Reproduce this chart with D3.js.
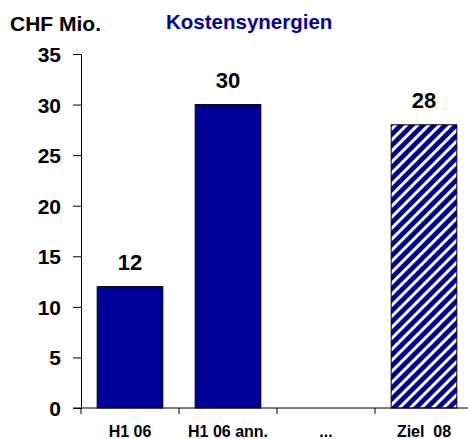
<!DOCTYPE html>
<html>
<head>
<meta charset="utf-8">
<script src="https://cdn.jsdelivr.net/npm/d3@7/dist/d3.min.js"></script>
<style>
  html, body { margin: 0; padding: 0; background: #fff; }
  svg { display: block; font-family: "Liberation Sans", Arial, sans-serif; font-weight: bold; }
</style>
</head>
<body>
<svg id="chart" width="468" height="439"></svg>
<script>
// Cost synergies (CHF millions)
const categories = ["H1 06", "H1 06 ann.", "...", "Ziel  08"];
const values = [12, 30, null, 28];
const hatched = [false, false, false, true];
const yTicks = [0, 5, 10, 15, 20, 25, 30, 35];

const navy = "#000099";
const svg = d3.select("#chart");

const x = d3.scaleBand().domain(categories).range([81, 473]).paddingInner(0.33).paddingOuter(0.165);
const y = d3.scaleLinear().domain([0, 35]).range([408, 54]);

// diagonal stripe pattern for the target bar
const stripe = 7.8;
const defs = svg.append("defs");
const pat = defs.append("pattern")
  .attr("id", "stripes")
  .attr("patternUnits", "userSpaceOnUse")
  .attr("width", stripe).attr("height", stripe)
  .attr("patternTransform", "rotate(45)");
pat.append("rect").attr("width", stripe).attr("height", stripe).attr("fill", navy);
pat.append("rect").attr("x", 0).attr("width", 3).attr("height", stripe).attr("fill", "#fff");

// headings
svg.append("text").attr("x", 10).attr("y", 31).attr("font-size", 21).attr("fill", "#000").text("CHF Mio.");
svg.append("text").attr("x", 166).attr("y", 29).attr("font-size", 20.5).attr("fill", navy).text("Kostensynergien");

// bars
const data = categories.map((c, i) => ({ c, v: values[i], h: hatched[i] })).filter(d => d.v != null);
svg.append("g").selectAll("rect").data(data).join("rect")
  .attr("x", d => x(d.c))
  .attr("y", d => y(d.v))
  .attr("width", x.bandwidth())
  .attr("height", d => y(0) - y(d.v))
  .attr("fill", d => d.h ? "url(#stripes)" : navy)
  .attr("stroke", "#000")
  .attr("stroke-width", 1);

// value labels
svg.append("g").selectAll("text").data(data).join("text")
  .attr("x", d => x(d.c) + x.bandwidth() / 2)
  .attr("y", d => y(d.v) - 17)
  .attr("text-anchor", "middle")
  .attr("font-size", 22)
  .attr("fill", "#000")
  .text(d => d.v);

// y axis
const yAxis = svg.append("g").attr("transform", "translate(81,0)")
  .call(d3.axisLeft(y).tickValues(yTicks).tickSize(8).tickPadding(12).tickSizeOuter(0));
yAxis.select(".domain").attr("stroke", "#000");
yAxis.selectAll(".tick line").attr("stroke", "#000");
yAxis.selectAll(".tick text").attr("font-size", 21).attr("font-family", "Liberation Sans, Arial, sans-serif")
  .attr("font-weight", "bold").attr("fill", "#000").attr("dy", "0.36em");

// x axis baseline and category separators
svg.append("line").attr("x1", 73).attr("x2", 468).attr("y1", y(0)).attr("y2", y(0)).attr("stroke", "#000");
svg.append("g").selectAll("line").data(categories).join("line")
  .attr("x1", (c, i) => 81 + i * x.step())
  .attr("x2", (c, i) => 81 + i * x.step())
  .attr("y1", y(0)).attr("y2", y(0) + 6)
  .attr("stroke", "#000");

// category labels
svg.append("g").selectAll("text").data(categories).join("text")
  .attr("x", c => x(c) + x.bandwidth() / 2)
  .attr("y", 437)
  .attr("text-anchor", "middle")
  .attr("font-size", 16)
  .attr("fill", "#000")
  .attr("xml:space", "preserve")
  .style("white-space", "pre")
  .text(c => c);
</script>
</body>
</html>
